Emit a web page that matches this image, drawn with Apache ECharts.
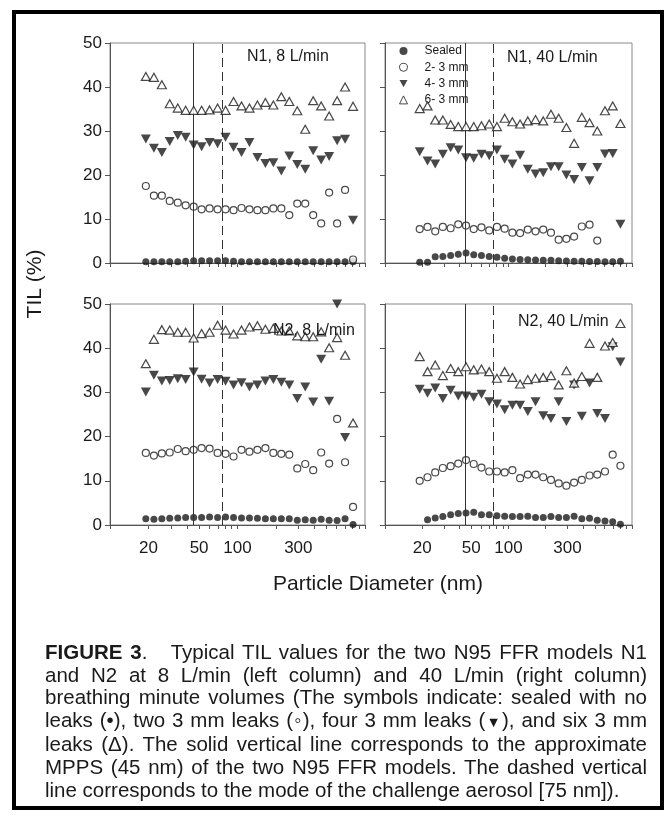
<!DOCTYPE html>
<html>
<head>
<meta charset="utf-8">
<script src="https://cdn.jsdelivr.net/npm/echarts@6/dist/echarts.min.js"></script>
<style>
  html, body { margin: 0; padding: 0; background: #fff; }
  #wrap { position: relative; width: 665px; height: 817px; }
  #chart { position: absolute; left: 0; top: 0; width: 665px; height: 817px; }
  #caption {
    position: absolute; left: 45px; top: 641px; width: 602px;
    font-family: 'Liberation Sans', Arial, sans-serif; font-size: 20.5px;
    line-height: 22.6px; color: #1a1a1a;
  }
  #caption div { white-space: nowrap; text-align: justify; text-align-last: justify; }
  #caption div.last { text-align-last: left; }
  .sym { font-size: 0.7em; }
</style>
</head>
<body>
<div id="wrap">
  <div id="chart"></div>
  <div id="caption">
    <div><b>FIGURE 3</b>.&nbsp;&nbsp; Typical TIL values for the two N95 FFR models N1</div>
    <div>and N2 at 8 L/min (left column) and 40 L/min (right column)</div>
    <div>breathing minute volumes (The symbols indicate: sealed with no</div>
    <div>leaks (•), two 3 mm leaks (◦), four 3 mm leaks (<span class="sym">▼</span>), and six 3 mm</div>
    <div>leaks (Δ). The solid vertical line corresponds to the approximate</div>
    <div>MPPS (45 nm) of the two N95 FFR models. The dashed vertical</div>
    <div class="last">line corresponds to the mode of the challenge aerosol [75 nm]).</div>
  </div>
</div>
<script>
// particle diameters (nm), same channels in every panel
const diameters = [19.1, 22.1, 25.5, 29.4, 34.0, 39.2, 45.3, 52.3, 60.4, 69.8, 80.6, 93.1, 107.5, 124.1,
  143.3, 165.5, 191.1, 220.7, 254.8, 294.3, 339.8, 392.4, 453.2, 523.3, 604.3, 697.8, 805.8]

const seriesNames = ['Sealed', '2- 3 mm', '4- 3 mm', '6- 3 mm']
const panelTitles = ['N1, 8 L/min', 'N1, 40 L/min', 'N2, 8 L/min', 'N2, 40 L/min']
const xTickLabels = [20, 50, 100, 300]
const xTicks = [10, 20, 30, 40, 50, 60, 70, 80, 90, 100, 200, 300, 400, 500, 600, 700, 800, 900, 1000]
const mppsNm = 45
const modeNm = 75

// N1, 8 L/min
const n1Low_sealed = [0.3, 0.3, 0.3, 0.3, 0.3, 0.4, 0.5, 0.5, 0.5, 0.5, 0.5, 0.4, 0.3, 0.3, 0.3, 0.3, 0.3, 0.3, 0.3, 0.3, 0.3, 0.3, 0.3, 0.3, 0.3, 0.3, 0.3]
const n1Low_two = [17.5, 15.3, 15.3, 14.1, 13.7, 13.1, 12.8, 12.2, 12.4, 12.2, 12.2, 12.0, 12.5, 12.2, 12.0, 12.0, 12.4, 12.4, 10.9, 13.5, 13.5, 10.9, 9.0, 16.0, 9.0, 16.6, 0.8]
const n1Low_four = [28.2, 26.1, 25.1, 27.6, 29.0, 28.6, 26.8, 26.4, 27.4, 27.1, 28.6, 26.3, 25.1, 27.4, 24.0, 22.6, 22.8, 20.9, 24.3, 22.4, 21.3, 25.5, 23.4, 24.2, 27.8, 28.1, 9.7]
const n1Low_six = [42.4, 42.2, 40.5, 36.2, 35.2, 34.7, 34.7, 34.7, 34.8, 35.2, 34.7, 36.7, 35.7, 35.2, 35.9, 36.5, 35.9, 37.8, 36.7, 34.6, 30.4, 36.9, 35.7, 33.4, 36.9, 40.0, 35.6]

// N1, 40 L/min
const n1High_sealed = [0.15, 0.15, 1.4, 1.5, 1.7, 2.0, 2.3, 1.9, 1.7, 1.5, 1.3, 1.1, 0.9, 0.8, 0.75, 0.7, 0.6, 0.6, 0.5, 0.45, 0.4, 0.4, 0.35, 0.35, 0.3, 0.3, 0.4]
const n1High_two = [7.7, 8.2, 7.2, 8.2, 7.9, 8.8, 8.5, 7.7, 8.1, 7.4, 8.2, 7.8, 6.9, 6.8, 7.6, 7.2, 7.6, 6.9, 5.3, 5.5, 6.0, 8.3, 8.7, 5.1, null, null, null]
const n1High_four = [25.3, 23.2, 22.5, 24.7, 26.2, 25.7, 23.9, 23.8, 24.7, 24.4, 25.7, 23.6, 22.5, 24.5, 21.3, 20.2, 20.5, 21.9, 21.9, 20.0, 19.0, 21.7, 18.7, 21.7, 24.8, 24.9, 8.8]
const n1High_six = [35.1, 35.7, 32.5, 32.5, 31.5, 31.0, 31.0, 31.0, 31.2, 31.6, 31.0, 32.9, 32.1, 31.6, 32.3, 32.6, 32.3, 33.8, 32.9, 30.8, 27.2, 33.1, 31.9, 30.0, 34.6, 35.7, 31.7]

// N2, 8 L/min
const n2Low_sealed = [1.4, 1.3, 1.4, 1.5, 1.6, 1.7, 1.7, 1.7, 1.8, 1.7, 1.8, 1.7, 1.6, 1.6, 1.5, 1.4, 1.4, 1.4, 1.4, 1.1, 1.2, 1.1, 1.3, 1.1, 1.0, 1.4, 0.1]
const n2Low_two = [16.3, 15.7, 16.2, 16.4, 17.2, 16.7, 17.0, 17.4, 17.3, 16.3, 16.1, 15.5, 17.0, 16.6, 17.0, 17.4, 16.3, 16.1, 15.9, 12.8, 13.8, 12.4, 16.4, 13.9, 24.0, 14.2, 4.1]
const n2Low_four = [30.1, 33.9, 32.6, 32.7, 33.1, 32.9, 34.6, 33.0, 32.1, 32.9, 32.5, 31.7, 32.2, 31.2, 31.7, 32.6, 32.9, 32.3, 31.7, 28.6, 31.2, 27.8, 37.5, 28.0, 50.0, 19.8, null]
const n2Low_six = [36.5, 42.0, 44.2, 44.1, 43.6, 43.6, 42.3, 43.3, 43.6, 45.2, 44.1, 43.2, 44.1, 44.8, 45.1, 44.3, 44.5, 43.9, 43.9, 42.8, 42.6, 42.6, 43.7, 40.1, 42.4, 38.4, 23.1]

// N2, 40 L/min
const n2High_sealed = [null, 1.2, 1.6, 1.9, 2.3, 2.6, 2.7, 2.9, 2.3, 2.3, 2.1, 2.0, 1.9, 1.9, 2.0, 1.7, 1.7, 1.9, 1.7, 1.7, 2.0, 1.4, 1.5, 1.1, 0.9, 0.75, 0.15]
const n2High_two = [10.0, 10.8, 11.9, 12.9, 13.3, 13.9, 14.7, 13.8, 13.0, 12.1, 12.1, 11.9, 12.4, 10.6, 11.4, 11.4, 10.8, 10.2, 9.4, 8.9, 9.6, 10.2, 11.2, 11.4, 12.1, 15.9, 13.4]
const n2High_four = [30.7, 29.8, 31.0, 28.6, 30.5, 29.2, 29.2, 28.9, 29.6, 27.9, 27.4, 26.1, 27.1, 27.1, 25.7, 27.9, 24.7, 24.1, 27.9, 23.4, 31.7, 24.6, 32.1, 25.2, 24.1, 40.3, 36.9]
const n2High_six = [38.1, 34.7, 36.2, 33.8, 35.4, 34.7, 35.8, 35.1, 35.3, 34.7, 33.2, 34.7, 33.4, 31.9, 32.9, 33.2, 33.4, 33.8, 31.7, 34.9, 32.1, 33.6, 41.1, 33.4, 40.5, 41.3, 45.6]

const panels = [
  [n1Low_sealed, n1Low_two, n1Low_four, n1Low_six],
  [n1High_sealed, n1High_two, n1High_four, n1High_six],
  [n2Low_sealed, n2Low_two, n2Low_four, n2Low_six],
  [n2High_sealed, n2High_two, n2High_four, n2High_six]
]

// layout
const grids = [
  { left: 110, top: 43, width: 255, height: 220 },
  { left: 385, top: 43, width: 247, height: 220 },
  { left: 110, top: 304, width: 255, height: 221 },
  { left: 385, top: 304, width: 247, height: 221 }
]
const titlePos = [[247, 57], [507, 58], [273, 331], [518, 322]]
const font = "'Liberation Sans', Arial, sans-serif"
const ink = '#1a1a1a'
const axisGray = '#555'

// open symbols are drawn as white-filled shapes with a thin outline
const downTriangle = 'path://M0,0L10,0L5,9Z'
const markers = [
  { symbol: 'circle', symbolSize: 7, itemStyle: { color: ink, borderWidth: 0 } },
  { symbol: 'circle', symbolSize: 7, itemStyle: { color: '#fff', borderColor: ink, borderWidth: 1.2 } },
  { symbol: downTriangle, symbolSize: [10, 9], itemStyle: { color: ink, borderWidth: 0 } },
  { symbol: 'triangle', symbolSize: [9, 8], itemStyle: { color: '#fff', borderColor: ink, borderWidth: 1.2 } }
]

const lg = v => Math.log10(v)

const chart = echarts.init(document.getElementById('chart'))

const xAxis = grids.map((g, i) => ({
  type: 'value', gridIndex: i, min: 1, max: 3,
  axisLine: { lineStyle: { color: axisGray } },
  axisTick: { customValues: xTicks.map(lg), length: 4, lineStyle: { color: axisGray } },
  axisLabel: {
    show: i >= 2, customValues: xTickLabels.map(lg),
    formatter: v => String(Math.round(Math.pow(10, v))),
    fontSize: 17, color: ink, fontFamily: font, margin: 15
  },
  splitLine: { show: false }
}))

const yAxis = grids.map((g, i) => ({
  type: 'value', gridIndex: i, min: 0, max: 50, interval: 10,
  axisLine: { show: true, lineStyle: { color: axisGray } },
  axisTick: { show: true, length: 5, lineStyle: { color: axisGray } },
  axisLabel: { show: i % 2 === 0, fontSize: 17, color: ink, fontFamily: font, margin: 8 },
  splitLine: { show: false }
}))

const series = []
panels.forEach((panel, p) => {
  panel.forEach((vals, s) => {
    const data = []
    vals.forEach((v, i) => { if (v != null) data.push([lg(diameters[i]), v]) })
    const item = Object.assign({
      type: 'scatter', name: seriesNames[s], xAxisIndex: p, yAxisIndex: p, data,
      emphasis: { disabled: true },
      z: 3 + s
    }, markers[s])
    if (s === 0) {
      item.markLine = {
        silent: true, symbol: 'none', label: { show: false },
        lineStyle: { color: '#333', width: 1 },
        data: [
          { xAxis: lg(mppsNm), lineStyle: { type: 'solid' } },
          { xAxis: lg(modeNm), lineStyle: { type: [9, 5] } }
        ]
      }
    }
    series.push(item)
  })
})

chart.setOption({
  animation: false,
  backgroundColor: '#fff',
  grid: grids.map(g => Object.assign({ show: true, borderColor: '#888', borderWidth: 1 }, g)),
  xAxis,
  yAxis,
  legend: {
    data: seriesNames,
    orient: 'vertical', left: 394, top: 40,
    itemWidth: 8, itemHeight: 8, itemGap: 4.3, selectedMode: false,
    itemStyle: { borderWidth: 1 },
    textStyle: { fontSize: 12, color: ink, fontFamily: font, padding: [0, 0, 0, 12] }
  },
  graphic: [
    {
      type: 'rect', silent: true,
      shape: { x: 14, y: 12, width: 648, height: 796 },
      style: { fill: 'none', stroke: '#000', lineWidth: 4 }
    },
    ...panelTitles.map((t, i) => ({
      type: 'text', x: titlePos[i][0], y: titlePos[i][1], z: 100,
      style: { text: t, font: '16px ' + font, fill: ink, verticalAlign: 'middle' }
    })),
    {
      type: 'text', x: 35, y: 284, rotation: Math.PI / 2,
      style: { text: 'TIL (%)', font: '21px ' + font, fill: ink, align: 'center', verticalAlign: 'middle' }
    },
    {
      type: 'text', x: 378, y: 584,
      style: { text: 'Particle Diameter (nm)', font: '21px ' + font, fill: ink, align: 'center', verticalAlign: 'middle' }
    }
  ],
  series
})
</script>
</body>
</html>
